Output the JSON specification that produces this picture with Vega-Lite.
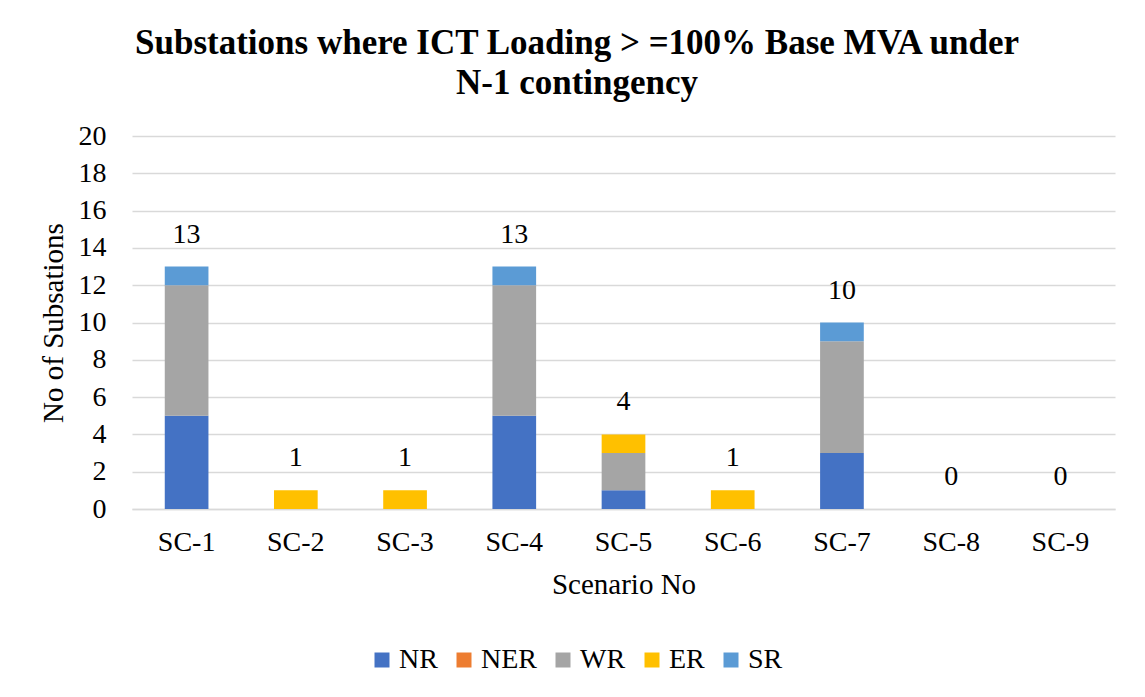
{
  "$schema": "https://vega.github.io/schema/vega-lite/v6.json",
  "width": 983,
  "height": 373,
  "autosize": {"type": "none"},
  "padding": {"left": 132, "top": 136, "right": 30, "bottom": 188},
  "background": "white",
  "title": {
    "text": ["Substations where ICT Loading > =100% Base MVA under", "N-1 contingency"],
    "font": "Liberation Serif, Times New Roman, serif",
    "fontSize": 35,
    "fontWeight": "bold",
    "color": "#000000",
    "lineHeight": 40,
    "anchor": "middle",
    "frame": "bounds",
    "offset": 21
  },
  "datasets": {
    "parts": [
      {"scenario": "SC-1", "region": "NR", "ord": 1, "count": 5},
      {"scenario": "SC-1", "region": "WR", "ord": 3, "count": 7},
      {"scenario": "SC-1", "region": "SR", "ord": 5, "count": 1},
      {"scenario": "SC-2", "region": "ER", "ord": 4, "count": 1},
      {"scenario": "SC-3", "region": "ER", "ord": 4, "count": 1},
      {"scenario": "SC-4", "region": "NR", "ord": 1, "count": 5},
      {"scenario": "SC-4", "region": "WR", "ord": 3, "count": 7},
      {"scenario": "SC-4", "region": "SR", "ord": 5, "count": 1},
      {"scenario": "SC-5", "region": "NR", "ord": 1, "count": 1},
      {"scenario": "SC-5", "region": "WR", "ord": 3, "count": 2},
      {"scenario": "SC-5", "region": "ER", "ord": 4, "count": 1},
      {"scenario": "SC-6", "region": "ER", "ord": 4, "count": 1},
      {"scenario": "SC-7", "region": "NR", "ord": 1, "count": 3},
      {"scenario": "SC-7", "region": "WR", "ord": 3, "count": 6},
      {"scenario": "SC-7", "region": "SR", "ord": 5, "count": 1},
      {"scenario": "SC-8", "region": "NER", "ord": 2, "count": 0},
      {"scenario": "SC-9", "region": "NER", "ord": 2, "count": 0}
    ],
    "totals": [
      {"scenario": "SC-1", "total": 13},
      {"scenario": "SC-2", "total": 1},
      {"scenario": "SC-3", "total": 1},
      {"scenario": "SC-4", "total": 13},
      {"scenario": "SC-5", "total": 4},
      {"scenario": "SC-6", "total": 1},
      {"scenario": "SC-7", "total": 10},
      {"scenario": "SC-8", "total": 0},
      {"scenario": "SC-9", "total": 0}
    ]
  },
  "encoding": {
    "x": {
      "field": "scenario",
      "type": "nominal",
      "sort": ["SC-1", "SC-2", "SC-3", "SC-4", "SC-5", "SC-6", "SC-7", "SC-8", "SC-9"],
      "scale": {"paddingInner": 0.6, "paddingOuter": 0.3},
      "axis": {
        "title": "Scenario No",
        "labelAngle": 0,
        "labelPadding": 19,
        "ticks": false,
        "domain": true,
        "domainColor": "#D9D9D9",
        "domainWidth": 1.5,
        "titlePadding": 14
      }
    }
  },
  "layer": [
    {
      "data": {"name": "parts"},
      "mark": {"type": "bar"},
      "encoding": {
        "y": {
          "field": "count",
          "type": "quantitative",
          "stack": "zero",
          "scale": {"domain": [0, 20], "nice": false},
          "axis": {
            "title": "No of Subsations",
            "values": [0, 2, 4, 6, 8, 10, 12, 14, 16, 18, 20],
            "labelOverlap": false,
            "domain": false,
            "ticks": false,
            "labelPadding": 26,
            "titlePadding": 10,
            "grid": true
          }
        },
        "color": {
          "field": "region",
          "type": "nominal",
          "scale": {
            "domain": ["NR", "NER", "WR", "ER", "SR"],
            "range": ["#4472C4", "#ED7D31", "#A5A5A5", "#FFC000", "#5B9BD5"]
          },
          "legend": {
            "title": null,
            "orient": "none",
            "direction": "horizontal",
            "legendX": 236,
            "legendY": 510,
            "symbolType": "square",
            "symbolSize": 225,
            "symbolStrokeWidth": 0,
            "labelOffset": 3,
            "columnPadding": 12,
            "labelFontSize": 28,
            "labelFont": "Liberation Serif, Times New Roman, serif",
            "labelColor": "#000000"
          }
        },
        "order": {"field": "ord", "type": "quantitative", "sort": "ascending"}
      }
    },
    {
      "data": {"name": "totals"},
      "mark": {"type": "text", "dy": -24, "baseline": "alphabetic", "font": "Liberation Serif, Times New Roman, serif", "fontSize": 28, "color": "#000000"},
      "encoding": {
        "y": {
          "field": "total",
          "type": "quantitative",
          "axis": {
            "title": "No of Subsations",
            "values": [0, 2, 4, 6, 8, 10, 12, 14, 16, 18, 20],
            "labelOverlap": false,
            "domain": false,
            "ticks": false,
            "labelPadding": 26,
            "titlePadding": 10,
            "grid": true
          }
        },
        "text": {"field": "total", "type": "quantitative"}
      }
    }
  ],
  "config": {
    "view": {"stroke": null},
    "axisY": {"labelOverlap": false},
    "axis": {
      "labelFont": "Liberation Serif, Times New Roman, serif",
      "labelFontSize": 28,
      "labelColor": "#000000",
      "titleFont": "Liberation Serif, Times New Roman, serif",
      "titleFontSize": 29,
      "titleFontWeight": "normal",
      "titleColor": "#000000",
      "gridColor": "#D9D9D9",
      "gridWidth": 1.5
    }
  }
}
